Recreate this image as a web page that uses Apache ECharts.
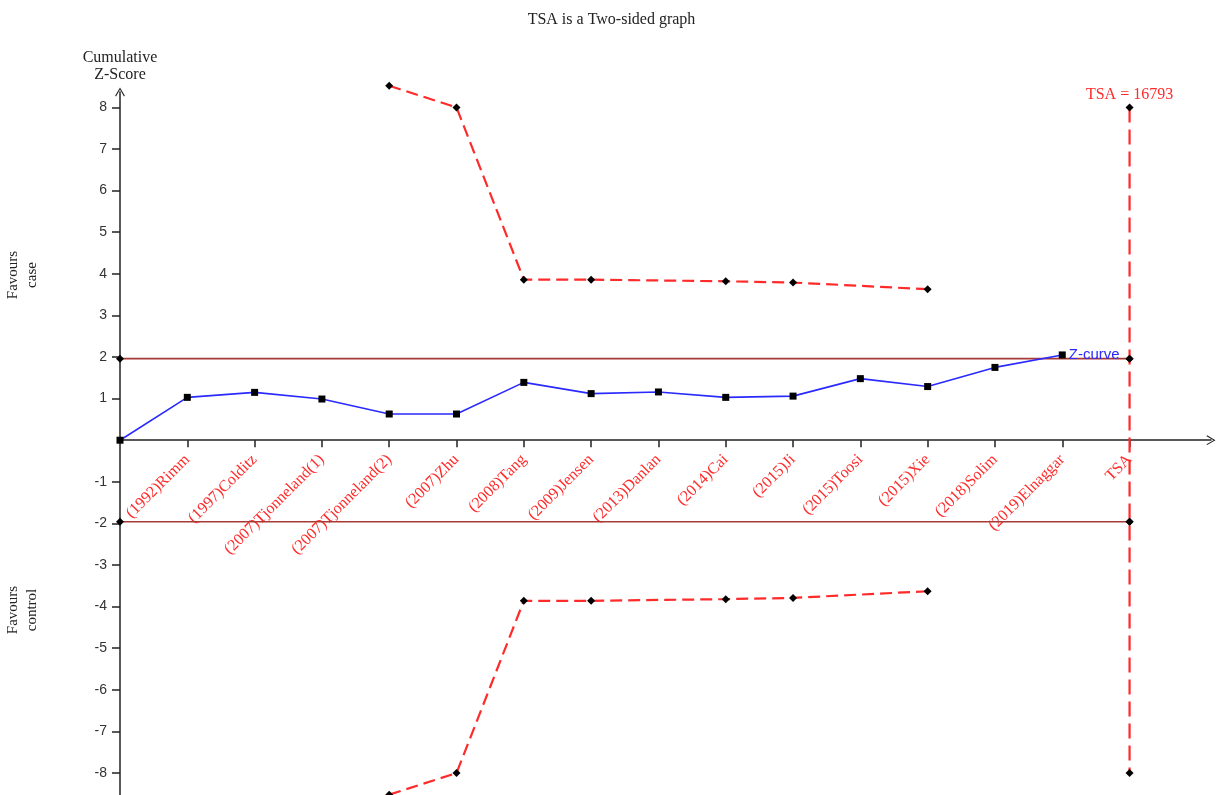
<!DOCTYPE html>
<html>
<head>
<meta charset="utf-8">
<title>TSA is a Two-sided graph</title>
<script src="https://cdn.jsdelivr.net/npm/echarts@6/dist/echarts.min.js"></script>
<style>
  html, body { margin: 0; padding: 0; background: #fff; }
  #chart { width: 1223px; height: 795px; }
</style>
</head>
<body>
<div id="chart"></div>
<script>
// Trials in cumulative order (position 0 is the origin, position 15 is the TSA line)
const studies = [
  '(1992)Rimm', '(1997)Colditz', '(2007)Tjonneland(1)', '(2007)Tjonneland(2)',
  '(2007)Zhu', '(2008)Tang', '(2009)Jensen', '(2013)Danlan', '(2014)Cai',
  '(2015)Ji', '(2015)Toosi', '(2015)Xie', '(2018)Solim', '(2019)Elnaggar', 'TSA'
];

// Cumulative Z-curve, one value per position 0..14
const zCurve = [0, 1.03, 1.15, 0.99, 0.63, 0.63, 1.39, 1.12, 1.16, 1.03, 1.06, 1.48, 1.29, 1.75, 2.05];

// Trial sequential monitoring boundaries (positions where a boundary was computed)
const boundaryPos = [4, 5, 6, 7, 9, 10, 12];
const upperBoundary = [8.52, 8.0, 3.86, 3.86, 3.82, 3.79, 3.63];
const lowerBoundary = [-8.52, -8.0, -3.86, -3.86, -3.82, -3.79, -3.63];

// Conventional significance limits
const conventional = 1.96;

// Required information size
const tsaPos = 15;
const tsaValue = 16793;
const tsaLine = [8, 1.96, -1.96, -8];

const yTicks = [-8, -7, -6, -5, -4, -3, -2, -1, 1, 2, 3, 4, 5, 6, 7, 8];
const xTicks = studies.map((_, i) => i + 1);

const SERIF = '"Liberation Serif", "Times New Roman", serif';
const SANS = '"Liberation Sans", Arial, sans-serif';
const CHEVRON = 'path://M0,12 L7,0 L14,12 L12.7,12.9 L7,2.8 L1.3,12.9 Z';

// Plot area and value ranges; the x axis is drawn along Z = 0
const Y_MIN = -8.6, Y_MAX = 8.37;
const GRID = { left: 120, top: 92, width: 1091, height: 706 };
const zeroOffset = -GRID.height * (0 - Y_MIN) / (Y_MAX - Y_MIN);

const pairs = (xs, ys) => xs.map((x, i) => [x, ys[i]]);

const chart = echarts.init(document.getElementById('chart'));

const diamond = { symbol: 'diamond', symbolSize: 8, itemStyle: { color: '#000' } };

chart.setOption({
  animation: false,
  backgroundColor: '#fff',
  title: {
    text: 'TSA is a Two-sided graph',
    left: 'center',
    top: 7,
    textStyle: { fontFamily: SERIF, fontSize: 16, fontWeight: 'normal', color: '#222' }
  },
  grid: Object.assign({ containLabel: false, outerBoundsMode: 'none' }, GRID),
  xAxis: {
    type: 'value',
    min: 0,
    max: 16.21,
    position: 'bottom',
    offset: zeroOffset,
    splitLine: { show: false },
    axisLine: {
      onZero: false,
      symbol: ['none', CHEVRON],
      symbolSize: [18, 9],
      lineStyle: { color: '#222', width: 1.5 }
    },
    axisTick: { customValues: xTicks, length: 7, lineStyle: { color: '#222', width: 1.5 } },
    axisLabel: {
      customValues: xTicks,
      formatter: v => studies[Math.round(v) - 1] || '',
      rotate: 45,
      margin: 17,
      color: '#ff2a2a',
      fontFamily: SERIF,
      fontSize: 16
    }
  },
  yAxis: {
    type: 'value',
    min: Y_MIN,
    max: Y_MAX,
    name: 'Cumulative\nZ-Score',
    nameLocation: 'end',
    nameGap: 9,
    nameTextStyle: { fontFamily: SERIF, fontSize: 16, color: '#222', lineHeight: 17, align: 'center' },
    splitLine: { show: false },
    axisLine: {
      onZero: false,
      symbol: ['none', CHEVRON],
      symbolSize: [16, 9],
      lineStyle: { color: '#222', width: 1.5 }
    },
    axisTick: { customValues: yTicks, length: 8, lineStyle: { color: '#222', width: 1.5 } },
    axisLabel: {
      customValues: yTicks,
      margin: 13,
      color: '#333',
      fontFamily: SANS,
      fontSize: 14
    }
  },
  graphic: [
    {
      type: 'text', x: 23, y: 275, rotation: Math.PI / 2,
      style: { text: 'Favours\ncase', fontFamily: SERIF, fontSize: 15, lineHeight: 19, fill: '#222', align: 'center', verticalAlign: 'middle' }
    },
    {
      type: 'text', x: 23, y: 610, rotation: Math.PI / 2,
      style: { text: 'Favours\ncontrol', fontFamily: SERIF, fontSize: 15, lineHeight: 19, fill: '#222', align: 'center', verticalAlign: 'middle' }
    }
  ],
  series: [
    {
      name: 'upper limit',
      type: 'line',
      data: [[0, conventional], [tsaPos, conventional]],
      lineStyle: { color: '#a83a36', width: 1.6 },
      ...diamond,
      z: 2
    },
    {
      name: 'lower limit',
      type: 'line',
      data: [[0, -conventional], [tsaPos, -conventional]],
      lineStyle: { color: '#a83a36', width: 1.6 },
      ...diamond,
      z: 2
    },
    {
      name: 'upper boundary',
      type: 'line',
      clip: false,
      data: pairs(boundaryPos, upperBoundary),
      lineStyle: { color: '#ff2a2a', width: 2.2, type: [12, 6] },
      ...diamond,
      z: 3
    },
    {
      name: 'lower boundary',
      type: 'line',
      clip: false,
      data: pairs(boundaryPos, lowerBoundary),
      lineStyle: { color: '#ff2a2a', width: 2.2, type: [12, 6] },
      ...diamond,
      z: 3
    },
    {
      name: 'TSA',
      type: 'line',
      data: tsaLine.map((v, i) => ({
        value: [tsaPos, v],
        label: i === 0 ? {
          show: true,
          position: 'top',
          distance: 1,
          formatter: 'TSA = ' + tsaValue,
          color: '#ff2a2a',
          fontFamily: SERIF,
          fontSize: 16
        } : { show: false }
      })),
      lineStyle: { color: '#ff2a2a', width: 2.2, type: [15, 7] },
      ...diamond,
      z: 3
    },
    {
      name: 'Z-curve',
      type: 'line',
      data: zCurve.map((v, i) => ({
        value: [i, v],
        label: i === zCurve.length - 1 ? {
          show: true,
          position: 'right',
          distance: 3,
          formatter: 'Z-curve',
          color: '#2a2aff',
          fontFamily: SANS,
          fontSize: 15
        } : { show: false }
      })),
      symbol: 'rect',
      symbolSize: 7,
      itemStyle: { color: '#000' },
      lineStyle: { color: '#2a2aff', width: 1.6 },
      z: 4
    }
  ]
});
</script>
</body>
</html>
